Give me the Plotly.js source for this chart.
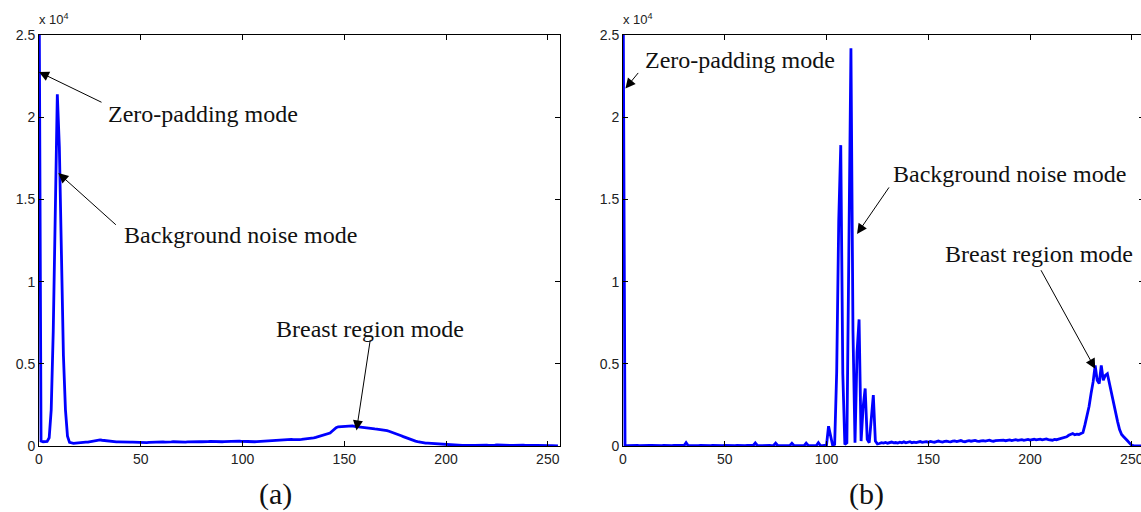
<!DOCTYPE html>
<html>
<head>
<meta charset="utf-8">
<script src="https://cdn.plot.ly/plotly-3.0.1.min.js"></script>
<style>
html, body { margin: 0; padding: 0; overflow: hidden; background: #fff; }
#chart { width: 1145px; height: 512px; }
</style>
</head>
<body>
<div id="chart"></div>
<script>
// Gray-level bins 0..255
const bins = Array.from({length: 256}, (_, i) => i);

// (a) histogram counts
const histA = [
  30000, 300, 260, 250, 280, 500, 2200, 7000, 13500, 21400,
  18200, 11500, 5500, 2200, 600, 220, 170, 160, 170, 190,
  200, 210, 220, 230, 240, 260, 280, 310, 340, 360,
  370, 350, 330, 310, 290, 280, 270, 260, 250, 250,
  240, 240, 230, 230, 220, 230, 240, 230, 220, 210,
  220, 230, 220, 210, 220, 230, 240, 230, 220, 230,
  240, 250, 240, 230, 240, 250, 260, 250, 240, 250,
  260, 250, 240, 250, 260, 270, 260, 250, 260, 270,
  260, 250, 260, 270, 280, 270, 260, 270, 280, 270,
  260, 270, 280, 290, 280, 270, 280, 290, 300, 290,
  280, 270, 260, 250, 240, 250, 260, 270, 280, 290,
  300, 310, 320, 330, 340, 350, 360, 370, 380, 390,
  400, 410, 420, 410, 400, 390, 380, 380, 390, 400,
  410, 420, 430, 450, 470, 490, 520, 560, 600, 640,
  680, 720, 760, 790, 900, 1020, 1120, 1170, 1180, 1190,
  1200, 1210, 1220, 1230, 1220, 1200, 1180, 1170, 1160, 1150,
  1140, 1120, 1100, 1080, 1060, 1040, 1030, 1020, 1000, 990,
  970, 940, 900, 860, 810, 760, 720, 670, 620, 570,
  520, 470, 420, 380, 340, 300, 270, 240, 210, 190,
  180, 170, 160, 150, 150, 140, 130, 130, 120, 120,
  110, 80, 50, 40, 30, 40, 50, 40, 30, 40,
  50, 60, 50, 40, 30, 40, 50, 40, 30, 40,
  50, 40, 30, 40, 50, 60, 50, 40, 30, 40,
  50, 40, 30, 40, 50, 40, 30, 40, 50, 40,
  30, 40, 50, 40, 30, 40, 30, 30, 30, 30,
  20, 20, 20, 30, 20, 10
];

// (b) histogram counts
const histB = [
  30000, 20, 20, 30, 20, 30, 20, 30, 20, 30,
  20, 30, 20, 30, 30, 20, 30, 20, 30, 20,
  30, 20, 30, 30, 20, 30, 20, 30, 20, 30,
  30, 200, 30, 20, 30, 20, 30, 20, 30, 20,
  30, 20, 30, 20, 30, 20, 30, 20, 30, 20,
  30, 20, 30, 20, 30, 20, 30, 20, 30, 30,
  20, 30, 20, 30, 30, 180, 30, 20, 30, 20,
  30, 20, 30, 20, 30, 170, 30, 20, 30, 20,
  30, 20, 30, 160, 30, 20, 30, 20, 30, 20,
  170, 30, 20, 30, 20, 30, 200, 30, 20, 40,
  60, 1200, 700, 50, 100, 4500, 13700, 18300, 4400, 100,
  200, 12100, 24200, 7000, 200, 5700, 7700, 300, 2400, 3500,
  400, 200, 1900, 3100, 300, 120, 150, 200, 180, 220,
  170, 200, 240, 190, 210, 180, 230, 200, 250, 190,
  220, 260, 200, 230, 210, 250, 270, 220, 240, 260,
  230, 280, 250, 230, 270, 300, 260, 240, 280, 300,
  270, 250, 290, 310, 270, 300, 330, 280, 260, 300,
  320, 290, 310, 340, 300, 280, 310, 330, 300, 320,
  350, 310, 290, 330, 340, 310, 330, 360, 320, 340,
  370, 330, 350, 380, 340, 360, 390, 350, 370, 400,
  360, 380, 410, 370, 390, 420, 380, 400, 430, 390,
  370, 350, 400, 380, 420, 450, 470, 500, 560, 650,
  700, 760, 680, 720, 700, 760, 820, 1300, 1800, 2400,
  3200, 3900, 4900, 4000, 3800, 4900, 4000, 4300, 4400, 3800,
  3100, 2700, 2000, 1500, 1000, 700, 560, 450, 300, 160,
  40, 20, 10, 20, 10, 0
];

const xTickVals = [0, 50, 100, 150, 200, 250];
const xTickText = ['0', '50', '100', '150', '200', '250'];
const yTickVals = [0, 5000, 10000, 15000, 20000, 25000];
const yTickText = ['0', '0.5', '1', '1.5', '2', '2.5'];
const panelLabels = ['(a)', '(b)'];
const modeLabels = ['Zero-padding mode', 'Background noise mode', 'Breast region mode'];

const W = 1145, H = 512;
const px = v => v / W;
const py = v => 1 - v / H;

const tickFont = {family: 'Liberation Sans, Arial, sans-serif', size: 14, color: '#222'};
const serif = 'Liberation Serif, Times New Roman, serif';

function xax(domain, anchor) {
  return {
    domain: domain, anchor: anchor, range: [0, 256],
    tickmode: 'array', tickvals: xTickVals, ticktext: xTickText,
    ticks: 'inside', ticklen: 5, tickwidth: 1, tickcolor: '#000',
    showline: true, linecolor: '#000', linewidth: 1, mirror: 'ticks',
    showgrid: false, zeroline: false, tickfont: tickFont
  };
}
function yax(anchor) {
  return {
    domain: [py(446), py(35)], anchor: anchor, range: [0, 25000],
    tickmode: 'array', tickvals: yTickVals, ticktext: yTickText,
    ticks: 'inside', ticklen: 5, tickwidth: 1, tickcolor: '#000',
    showline: true, linecolor: '#000', linewidth: 1, mirror: 'ticks',
    showgrid: false, zeroline: false, tickfont: tickFont
  };
}

const traces = [
  {x: bins, y: histA, type: 'scatter', mode: 'lines', xaxis: 'x', yaxis: 'y',
   line: {color: '#0000ff', width: 2.8}, hoverinfo: 'skip'},
  {x: bins, y: histB, type: 'scatter', mode: 'lines', xaxis: 'x2', yaxis: 'y2',
   line: {color: '#0000ff', width: 2.8}, hoverinfo: 'skip'}
];

function arrow(xref, yref, x, y, ax, ay) {
  return {xref: xref, yref: yref, x: x, y: y, ax: ax, ay: ay, text: '',
          showarrow: true, arrowhead: 2, arrowsize: 2, arrowwidth: 1,
          arrowcolor: '#000', standoff: 0, startstandoff: 0};
}
function label(text, cx, cy) {
  return {xref: 'paper', yref: 'paper', x: px(cx), y: py(cy), text: text,
          showarrow: false, xanchor: 'center', yanchor: 'middle',
          font: {family: serif, size: 24, color: '#111'}};
}

const annotations = [
  // panel (a)
  label(modeLabels[0], 203, 114),
  arrow('x', 'y', 0, 22750, 64, 31),
  label(modeLabels[1], 240, 235),
  arrow('x', 'y', 9.5, 16600, 59, 53),
  label(modeLabels[2], 370, 329),
  arrow('x', 'y', 156, 950, 14, -92),
  // panel (b)
  label(modeLabels[0], 740, 60),
  arrow('x2', 'y2', 1.2, 21750, 14, -17),
  label(modeLabels[1], 1010, 174),
  arrow('x2', 'y2', 115, 12900, 33, -48),
  label(modeLabels[2], 1039, 254),
  arrow('x2', 'y2', 232, 4700, -55, -100),
  // exponent labels
  {xref: 'paper', yref: 'paper', x: px(37), y: py(19), text: 'x 10<sup>4</sup>',
   showarrow: false, xanchor: 'left', yanchor: 'middle',
   font: {family: 'Liberation Sans, Arial, sans-serif', size: 13, color: '#222'}},
  {xref: 'paper', yref: 'paper', x: px(621), y: py(19), text: 'x 10<sup>4</sup>',
   showarrow: false, xanchor: 'left', yanchor: 'middle',
   font: {family: 'Liberation Sans, Arial, sans-serif', size: 13, color: '#222'}},
  // panel captions
  {xref: 'paper', yref: 'paper', x: px(275), y: py(494), text: panelLabels[0],
   showarrow: false, xanchor: 'center', yanchor: 'middle',
   font: {family: serif, size: 30, color: '#111'}},
  {xref: 'paper', yref: 'paper', x: px(866), y: py(494), text: panelLabels[1],
   showarrow: false, xanchor: 'center', yanchor: 'middle',
   font: {family: serif, size: 30, color: '#111'}}
];

const layout = {
  width: W, height: H,
  margin: {l: 0, r: 0, t: 0, b: 0, pad: 0},
  paper_bgcolor: '#fff', plot_bgcolor: '#fff',
  showlegend: false,
  xaxis: xax([px(39), px(560)], 'y'),
  yaxis: yax('x'),
  xaxis2: xax([px(623), px(1144)], 'y2'),
  yaxis2: yax('x2'),
  annotations: annotations
};

Plotly.newPlot('chart', traces, layout, {staticPlot: true, displayModeBar: false});
</script>
</body>
</html>
